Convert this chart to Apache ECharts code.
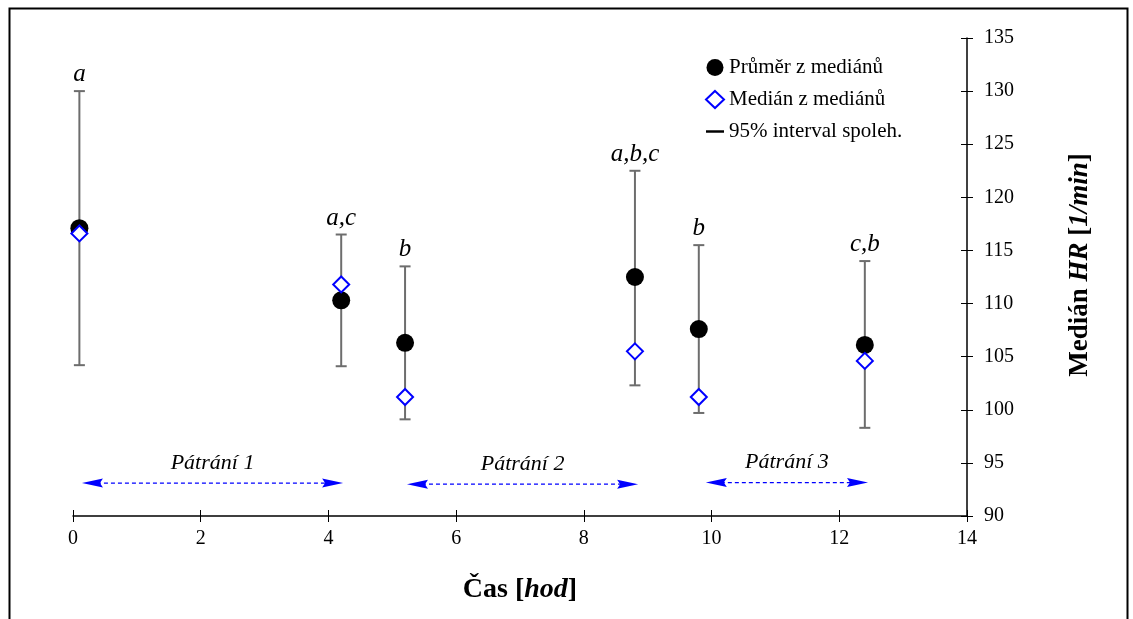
<!DOCTYPE html>
<html>
<head>
<meta charset="utf-8">
<script src="https://cdn.jsdelivr.net/npm/echarts@6/dist/echarts.min.js"></script>
<style>
html,body{margin:0;padding:0;background:#fff;}
#chart{width:1133px;height:619px;}
</style>
</head>
<body>
<div id="chart"></div>
<script>
// ---- data ----
const timeHours = [0.1, 4.2, 5.2, 8.8, 9.8, 12.4];
const meanOfMedians = [117.1, 110.3, 106.3, 112.5, 107.6, 106.1];
const medianOfMedians = [116.6, 111.8, 101.2, 105.5, 101.2, 104.6];
const ciLow = [104.2, 104.1, 99.1, 102.3, 99.7, 98.3];
const ciHigh = [130.0, 116.5, 113.5, 122.5, 115.5, 114.0];
const groupLabels = ['a', 'a,c', 'b', 'a,b,c', 'b', 'c,b'];
const phaseNames = ['Pátrání 1', 'Pátrání 2', 'Pátrání 3'];
const phaseStart = [0.14, 5.23, 9.91];
const phaseEnd = [4.23, 8.85, 12.45];
const phaseLevel = [93.1, 93.0, 93.15];
const xTicks = [0, 2, 4, 6, 8, 10, 12, 14];
const yTicks = [90, 95, 100, 105, 110, 115, 120, 125, 130, 135];

const SERIF = '"Liberation Serif", "Times New Roman", serif';
const chart = echarts.init(document.getElementById('chart'));

const errData = timeHours.map((t, i) => [t, ciLow[i], ciHigh[i]]);
const meanData = timeHours.map((t, i) => [t, meanOfMedians[i]]);
const medData = timeHours.map((t, i) => [t, medianOfMedians[i]]);
const phaseData = phaseNames.map((n, i) => [phaseStart[i], phaseEnd[i], phaseLevel[i]]);

function arrowHead(tip, dir) {
  const L = 21, H = 4.5, notch = 3;
  const bx = tip[0] - dir * L;
  return {
    type: 'polygon',
    shape: { points: [[tip[0], tip[1]], [bx, tip[1] - H], [bx + dir * notch, tip[1]], [bx, tip[1] + H]] },
    style: { fill: '#0000ff' }
  };
}

const boldRich = (size) => ({
  b: { fontFamily: SERIF, fontSize: size, fontWeight: 'bold', color: '#000' },
  bi: { fontFamily: SERIF, fontSize: size, fontWeight: 'bold', fontStyle: 'italic', color: '#000' }
});

const option = {
  backgroundColor: '#fff',
  animation: false,
  graphic: [{
    type: 'rect', left: 7, top: 6, silent: true, z: 0,
    shape: { width: 1118, height: 660 },
    style: { fill: 'none', stroke: '#000', lineWidth: 2 }
  }],
  grid: { left: 73, right: 166, top: 38, bottom: 103, containLabel: false },
  legend: {
    orient: 'vertical', left: 700, top: 52, itemGap: 11,
    itemWidth: 18, itemHeight: 17, itemTextGap: 2,
    textStyle: { fontFamily: SERIF, fontSize: 21, color: '#000' },
    data: [
      { name: 'Průměr z mediánů', icon: 'circle' },
      { name: 'Medián z mediánů' },
      { name: '95% interval spoleh.', icon: 'path://M0,0 H16 V2.2 H0 Z', itemStyle: { color: '#000' } }
    ]
  },
  xAxis: [{
    type: 'value', min: 0, max: 14, interval: 2, position: 'bottom',
    name: '{b|Čas [}{bi|hod}{b|]}', nameLocation: 'middle', nameGap: 60,
    nameTextStyle: { rich: boldRich(28) },
    axisLine: { show: true, onZero: false, lineStyle: { color: '#000', width: 1.5 } },
    axisTick: { show: true, length: 6, lineStyle: { color: '#000', width: 1 } },
    axisLabel: { margin: 13, fontFamily: SERIF, fontSize: 20, color: '#000',
      formatter: v => xTicks.includes(v) ? String(v) : '' },
    splitLine: { show: false }
  }, {
    type: 'value', min: 0, max: 14, interval: 2, position: 'bottom',
    axisLine: { show: false, onZero: false },
    axisTick: { show: true, inside: true, length: 6, lineStyle: { color: '#000', width: 1 } },
    axisLabel: { show: false }, splitLine: { show: false }
  }],
  yAxis: [{
    type: 'value', min: 90, max: 135, interval: 5, position: 'right',
    name: '{b|Medián }{bi|HR}{b| [}{bi|1/min}{b|]}', nameLocation: 'middle', nameGap: 100, nameRotate: 90,
    nameTextStyle: { rich: boldRich(27), padding: [0, 0, 0, 24] },
    axisLine: { show: true, onZero: false, lineStyle: { color: '#000', width: 1.5 } },
    axisTick: { show: true, length: 6, lineStyle: { color: '#000', width: 1 } },
    axisLabel: { margin: 17, fontFamily: SERIF, fontSize: 20, color: '#000',
      formatter: v => yTicks.includes(v) ? String(v) : '' },
    splitLine: { show: false }
  }, {
    type: 'value', min: 90, max: 135, interval: 5, position: 'right',
    axisLine: { show: false, onZero: false },
    axisTick: { show: true, inside: true, length: 6, lineStyle: { color: '#000', width: 1 } },
    axisLabel: { show: false }, splitLine: { show: false }
  }],
  series: [
    {
      name: '95% interval spoleh.', type: 'custom', xAxisIndex: 0, yAxisIndex: 0,
      itemStyle: { color: '#6d6d6d' },
      encode: { x: 0, y: [1, 2] },
      data: errData, z: 2,
      renderItem: (params, api) => {
        const x = api.value(0), lo = api.value(1), hi = api.value(2);
        const top = api.coord([x, hi]), bot = api.coord([x, lo]);
        const w = 5.5;
        const st = { stroke: '#6d6d6d', lineWidth: 2 };
        return {
          type: 'group', children: [
            { type: 'line', shape: { x1: top[0], y1: top[1], x2: bot[0], y2: bot[1] }, style: st },
            { type: 'line', shape: { x1: top[0] - w, y1: top[1], x2: top[0] + w, y2: top[1] }, style: st },
            { type: 'line', shape: { x1: bot[0] - w, y1: bot[1], x2: bot[0] + w, y2: bot[1] }, style: st },
            { type: 'text', style: { text: groupLabels[params.dataIndex], x: top[0], y: top[1] - 4,
              textAlign: 'center', textVerticalAlign: 'bottom',
              font: 'italic 25px ' + SERIF, fill: '#000' } }
          ]
        };
      }
    },
    {
      name: 'Průměr z mediánů', type: 'scatter', symbol: 'circle', symbolSize: 18,
      itemStyle: { color: '#000', opacity: 1 }, data: meanData, z: 3
    },
    {
      name: 'Medián z mediánů', type: 'scatter', symbol: 'diamond', symbolSize: 16,
      itemStyle: { color: '#fff', borderColor: '#0000ff', borderWidth: 2, opacity: 1 }, data: medData, z: 4
    },
    {
      name: 'phases', type: 'custom', data: phaseData, z: 2,
      encode: { x: [0, 1], y: 2 },
      renderItem: (params, api) => {
        const a = api.coord([api.value(0), api.value(2)]);
        const b = api.coord([api.value(1), api.value(2)]);
        return {
          type: 'group', children: [
            { type: 'line', shape: { x1: a[0] + 15, y1: a[1], x2: b[0] - 15, y2: b[1] },
              style: { stroke: '#0000ff', lineWidth: 1.2, lineDash: [4, 3] } },
            arrowHead(a, -1), arrowHead(b, 1),
            { type: 'text', style: { text: phaseNames[params.dataIndex], x: (a[0] + b[0]) / 2, y: a[1] - 9,
              textAlign: 'center', textVerticalAlign: 'bottom', font: 'italic 22px ' + SERIF, fill: '#000' } }
          ]
        };
      }
    }
  ]
};
chart.setOption(option);
</script>
</body>
</html>
